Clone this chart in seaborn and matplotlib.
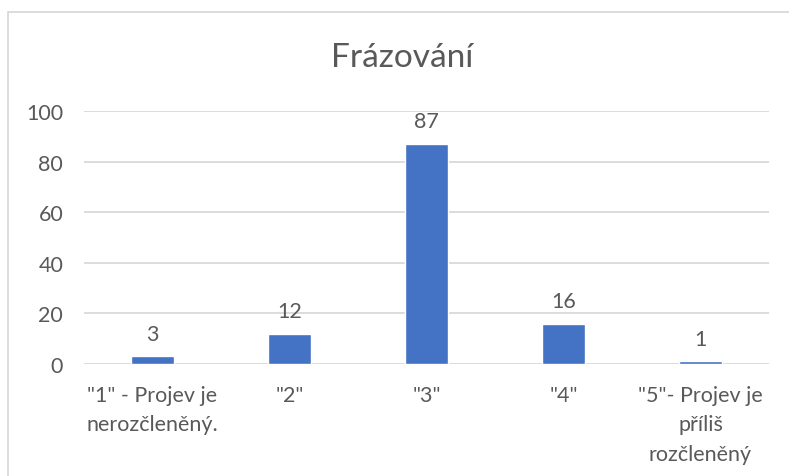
import pandas as pd
import matplotlib.pyplot as plt
import seaborn as sns
from matplotlib.patches import Rectangle

categories = ['"1" - Projev je\nnerozčleněný.', '"2"', '"3"', '"4"', '"5"- Projev je\npříliš\nrozčleněný']
values = [3, 12, 87, 16, 1]
yticks = [0, 20, 40, 60, 80, 100]

sns.set_style('white')
plt.rcParams['font.family'] = ['Lato', 'DejaVu Sans']
text_color = '#595959'

df = pd.DataFrame({'kat': categories, 'pocet': values})

fig = plt.figure(figsize=(7.89, 4.77), dpi=100)
ax = fig.add_axes([84 / 789, 1 - 365 / 477, 685 / 789, 253 / 477])

sns.barplot(data=df, x='kat', y='pocet', color='#4472C4', width=0.31,
            saturation=1, ax=ax)

ax.set_ylim(0, 100)
ax.set_yticks(yticks)
ax.yaxis.grid(True, color='#D9D9D9', linewidth=1.3)
ax.set_axisbelow(True)
for s in ax.spines.values():
    s.set_visible(False)
ax.set_xlabel('')
ax.set_ylabel('')
ax.tick_params(axis='y', length=0, pad=15, labelsize=15.5, labelcolor=text_color)
ax.tick_params(axis='x', length=0, pad=15, labelsize=15.5, labelcolor=text_color)
for lab in ax.get_xticklabels():
    lab.set_linespacing(1.6)
    lab.set_verticalalignment('top')

ax.bar_label(ax.containers[0], padding=9, fontsize=15.5, color=text_color)

fig.text(402 / 789, 1 - 58 / 477, 'Frázování', ha='center', va='center',
         fontsize=24, color=text_color)

fig.add_artist(Rectangle((8 / 789, -0.1), 1.2, 1 - 13 / 477 + 0.1,
                         transform=fig.transFigure, fill=False,
                         edgecolor='#D9D9D9', linewidth=1.3))

fig.savefig('out.png', dpi=100, facecolor='white')
